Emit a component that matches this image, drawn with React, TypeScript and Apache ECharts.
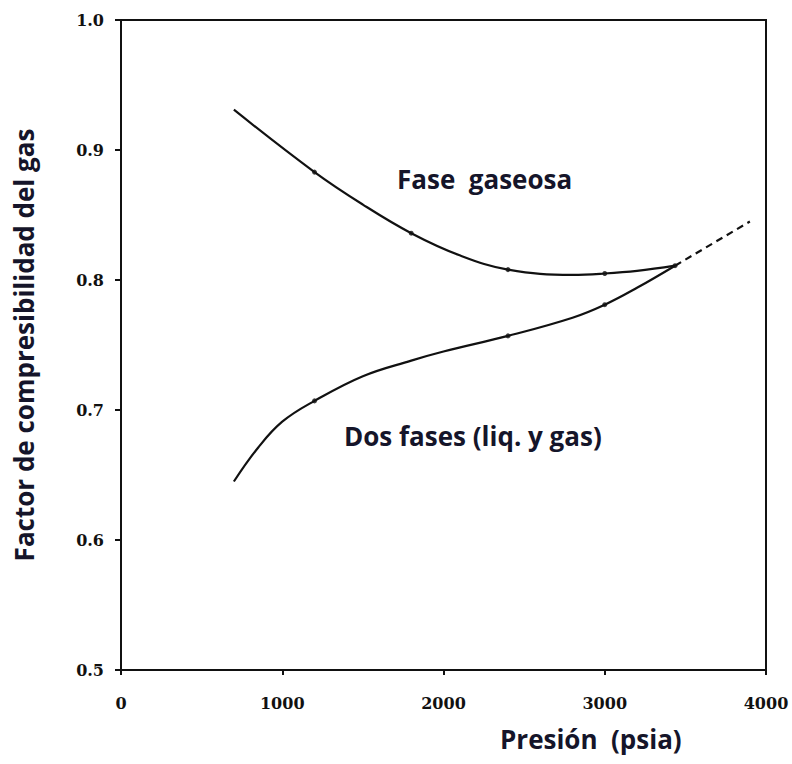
import React, { useEffect, useRef } from "react";
import * as echarts from "echarts";

const xTicks = [0, 1000, 2000, 3000, 4000];
const yTicks = [0.5, 0.6, 0.7, 0.8, 0.9, 1.0];

const gasX = [700, 1200, 1500, 1800, 2100, 2400, 2800, 3000, 3200, 3436];
const gasY = [0.931, 0.883, 0.858, 0.836, 0.819, 0.808, 0.804, 0.805, 0.807, 0.811];

const twoX = [700, 850, 1000, 1200, 1500, 1800, 2000, 2400, 2800, 3000, 3200, 3436];
const twoY = [0.645, 0.671, 0.691, 0.707, 0.726, 0.738, 0.745, 0.757, 0.771, 0.781, 0.794, 0.811];

const dashX = [3436, 3900];
const dashY = [0.811, 0.845];

const dotX = [1200, 1800, 2400, 3000, 3436, 1200, 2400, 3000];
const dotY = [0.883, 0.836, 0.808, 0.805, 0.811, 0.707, 0.757, 0.781];

const labelGas = "Fase  gaseosa";
const labelTwo = "Dos fases (liq. y gas)";
const xTitle = "Presión  (psia)";
const yTitle = "Factor de compresibilidad del gas";

const zip = (a: number[], b: number[]) => a.map((v, i) => [v, b[i]]);

export default function App() {
  const ref = useRef<HTMLDivElement>(null);
  useEffect(() => {
    if (!ref.current) return;
    const chart = echarts.init(ref.current, null, { renderer: "svg" });
    const textColor = "#15152a";
    const tickFont = {
      color: "#111",
      fontFamily: "DejaVu Serif",
      fontWeight: "bold" as const,
      fontSize: 16,
    };
    chart.setOption({
      animation: false,
      backgroundColor: "#ffffff",
      grid: {
        left: 121,
        right: 26,
        top: 20,
        bottom: 94,
        show: true,
        borderColor: "#111",
        borderWidth: 2,
      },
      xAxis: {
        type: "value",
        min: xTicks[0],
        max: xTicks[xTicks.length - 1],
        interval: 1000,
        splitLine: { show: false },
        axisLine: { show: true, lineStyle: { color: "#111", width: 2 } },
        axisTick: { show: true, length: 5, lineStyle: { color: "#111", width: 2 } },
        axisLabel: { ...tickFont, margin: 25, formatter: (v: number) => String(v) },
      },
      yAxis: {
        type: "value",
        min: yTicks[0],
        max: yTicks[yTicks.length - 1],
        interval: 0.1,
        splitLine: { show: false },
        axisLine: { show: true, lineStyle: { color: "#111", width: 2 } },
        axisTick: { show: true, length: 6, lineStyle: { color: "#111", width: 2 } },
        axisLabel: { ...tickFont, margin: 17, formatter: (v: number) => v.toFixed(1) },
        name: yTitle,
        nameLocation: "middle",
        nameGap: 84,
        nameRotate: 90,
        nameTextStyle: { fontFamily: "Open Sans", fontWeight: "bold", fontSize: 26, color: textColor },
      },
      graphic: [
        {
          type: "text",
          left: 500,
          top: 726,
          style: { text: xTitle, font: "bold 26px 'Open Sans'", fill: textColor },
        },
        {
          type: "text",
          left: 397,
          top: 166,
          style: { text: labelGas, font: "bold 26px 'Open Sans'", fill: textColor },
        },
        {
          type: "text",
          left: 344,
          top: 423,
          style: { text: labelTwo, font: "bold 26px 'Open Sans'", fill: textColor },
        },
      ],
      series: [
        {
          type: "line",
          data: zip(gasX, gasY),
          smooth: 0.4,
          showSymbol: false,
          lineStyle: { color: "#111", width: 2.2 },
        },
        {
          type: "line",
          data: zip(twoX, twoY),
          smooth: 0.4,
          showSymbol: false,
          lineStyle: { color: "#111", width: 2.2 },
        },
        {
          type: "line",
          data: zip(dashX, dashY),
          showSymbol: false,
          lineStyle: { color: "#111", width: 2.2, type: [7, 5] },
        },
        {
          type: "scatter",
          data: zip(dotX, dotY),
          symbolSize: 5,
          itemStyle: { color: "#111" },
        },
      ],
    });
    return () => chart.dispose();
  }, []);
  return (
    <div
      ref={ref}
      style={{ position: "fixed", left: 0, top: 0, width: 792, height: 764 }}
    />
  );
}
